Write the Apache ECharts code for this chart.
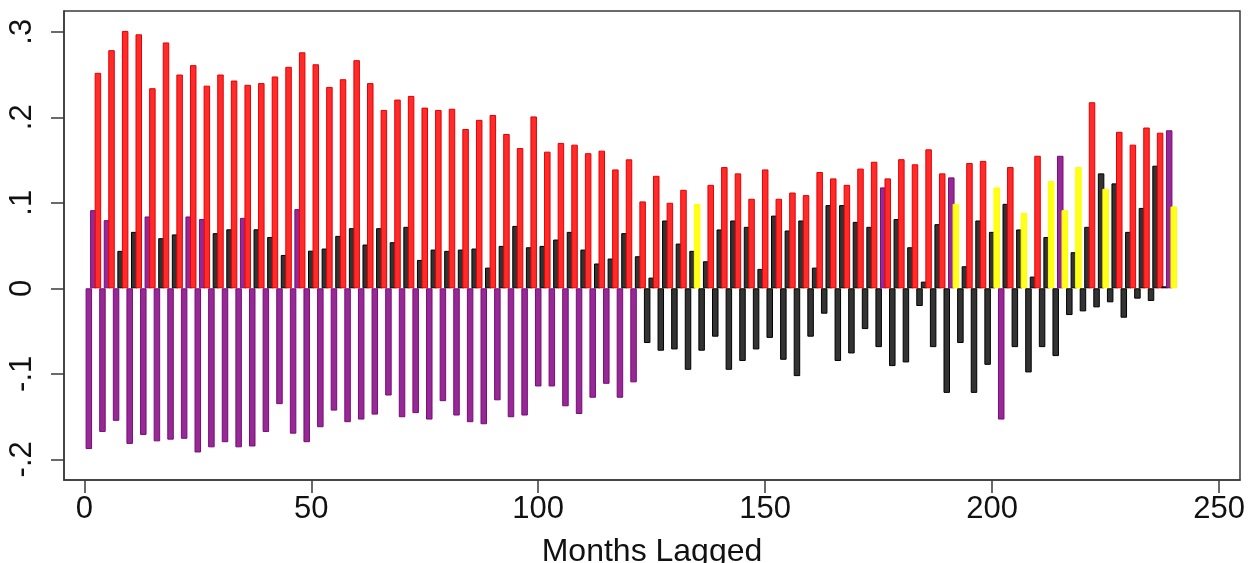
<!DOCTYPE html>
<html><head><meta charset="utf-8">
<script src="https://cdn.jsdelivr.net/npm/echarts@6/dist/echarts.min.js"></script>
<style>html,body{margin:0;padding:0;background:#fff}#c{width:1257px;height:563px}</style>
</head><body><div id="c"></div>
<script>
// Slot A: lags 1,4,7,...,238
const slotA = [-0.188,-0.168,-0.155,-0.182,-0.1715,-0.179,-0.177,-0.176,-0.192,-0.186,
 -0.180,-0.186,-0.185,-0.168,-0.1355,-0.170,-0.180,-0.1625,-0.143,-0.1566,
 -0.1535,-0.1477,-0.1254,-0.1508,-0.146,-0.1535,-0.132,-0.1488,-0.1566,-0.159,
 -0.131,-0.1508,-0.1488,-0.1148,-0.1148,-0.138,-0.147,-0.128,-0.1117,-0.128,
 -0.110,-0.064,-0.073,-0.0715,-0.0953,-0.073,-0.0566,-0.0953,-0.085,-0.0715,
 -0.058,-0.0836,-0.1027,-0.0566,-0.0297,-0.085,-0.0762,-0.0477,-0.0688,-0.091,
 -0.0867,-0.0207,-0.0688,-0.1223,-0.064,-0.1223,-0.0895,-0.1535,-0.0688,-0.0984,
 -0.0688,-0.0793,-0.0313,-0.027,-0.0223,-0.0164,-0.0344,-0.0121,-0.0148,0.0023];
const colA = 'PPPPPPPPPPPPPPPPPPPPPPPPPPPPPPPPPPPPPPPPPKKKKKKKKKKKKKKKKKKKKKKKKKKPKKKKKKKKKKKK';
// Slot B: lags 2,5,8,...,239
const slotB = [0.0914,0.0797,0.0438,0.066,0.084,0.0586,0.063,0.084,0.081,0.0645,
 0.069,0.0824,0.069,0.060,0.039,0.0926,0.044,0.0465,0.0613,0.0703,
 0.0512,0.0703,0.0539,0.0719,0.0332,0.0453,0.0438,0.0453,0.0465,0.0242,
 0.0496,0.073,0.048,0.0496,0.057,0.066,0.0453,0.029,0.0348,0.0645,
 0.0375,0.0125,0.0793,0.0523,0.0438,0.0316,0.0688,0.0793,0.0719,0.0227,
 0.085,0.0676,0.0793,0.0242,0.0973,0.0973,0.0777,0.0719,0.118,0.081,
 0.048,0.0078,0.075,0.1297,0.0258,0.0793,0.066,0.0988,0.0688,0.0137,
 0.060,0.155,0.0422,0.0719,0.1344,0.1227,0.066,0.094,0.1434,0.1848];
const colB = 'PPKKPKKPPKKPKKKPKKKKKKKKKKKKKKKKKKKKKKKKKKKKKKKKKKKKKKKKKKPKKKKPKKKKKKKPKKKKKKKP';
// Slot C: lags 3,6,9,...,240
const slotC = [0.252,0.2785,0.301,0.297,0.234,0.2875,0.250,0.261,0.237,0.250,
 0.243,0.238,0.240,0.2477,0.259,0.276,0.262,0.2355,0.2445,0.2668,
 0.240,0.2086,0.2207,0.225,0.2113,0.2086,0.210,0.1863,0.197,0.2027,
 0.1805,0.164,0.201,0.1598,0.170,0.168,0.158,0.161,0.139,0.1508,
 0.1016,0.1316,0.100,0.1152,0.0988,0.121,0.1418,0.1344,0.1047,0.139,
 0.1047,0.112,0.109,0.136,0.1285,0.121,0.140,0.148,0.1285,0.151,
 0.145,0.1625,0.1344,0.0988,0.1465,0.149,0.118,0.1418,0.0883,0.155,
 0.1254,0.0914,0.1418,0.2176,0.1164,0.183,0.168,0.188,0.182,0.0957];
const colC = 'RRRRRRRRRRRRRRRRRRRRRRRRRRRRRRRRRRRRRRRRRRRRYRRRRRRRRRRRRRRRRRRYRRYRYRYYYRYRRRRY';
const xTickValues = [0,50,100,150,200,250];
const xTickLabels = ['0','50','100','150','200','250'];
const yTickValues = [-0.2,-0.1,0,0.1,0.2,0.3];
const yTickLabels = ['-.2','-.1','0','.1','.2','.3'];

const styles = {
  P:{color:'#952a95',borderColor:'#7a0a7a'},
  K:{color:'#333333',borderColor:'#000000'},
  R:{color:'#ff2b2b',borderColor:'#e30000'},
  Y:{color:'#ffff1a',borderColor:'#ffff00'}
};
const data = [];
for (let i=0;i<80;i++){
  data.push({value:[3*i+1, slotA[i]], itemStyle:styles[colA[i]]});
  data.push({value:[3*i+2, slotB[i]], itemStyle:styles[colB[i]]});
  data.push({value:[3*i+3, slotC[i]], itemStyle:styles[colC[i]]});
}
const font = 'Liberation Sans, Arial, sans-serif';
const axisCol = '#3a3a3a';
const chart = echarts.init(document.getElementById('c'));
chart.setOption({
  animation:false,
  backgroundColor:'#fff',
  grid:{left:64,right:17,top:11,bottom:83,show:true,borderColor:axisCol,borderWidth:1.5,
    containLabel:false,outerBoundsMode:'none'},
  xAxis:{type:'value',min:-4.47,max:254.6,
    axisLine:{show:true,onZero:false,lineStyle:{color:axisCol,width:1.5}},
    axisTick:{show:true,length:13,customValues:xTickValues,lineStyle:{color:axisCol,width:1.5}},
    axisLabel:{customValues:xTickValues,fontSize:31,fontFamily:font,color:'#111',margin:14,
      formatter:v=>{const k=xTickValues.findIndex(t=>Math.abs(t-v)<1e-9);return k>=0?xTickLabels[k]:'';}},
    splitLine:{show:false},
    name:'Months Lagged',nameLocation:'middle',nameGap:56,
    nameTextStyle:{fontSize:32,fontFamily:font,color:'#111'}
  },
  yAxis:{type:'value',min:-0.2242,max:0.3243,
    axisLine:{show:true,onZero:false,lineStyle:{color:axisCol,width:1.5}},
    axisTick:{show:true,length:13,customValues:yTickValues,lineStyle:{color:axisCol,width:1.5}},
    axisLabel:{customValues:yTickValues,rotate:90,fontSize:31,fontFamily:font,color:'#111',margin:26,
      formatter:v=>{const k=yTickValues.findIndex(t=>Math.abs(t-v)<1e-9);return k>=0?yTickLabels[k]:'';}},
    splitLine:{show:false}
  },
  series:[{type:'bar',data:data,barWidth:6.5,barMaxWidth:10,itemStyle:{borderWidth:1}}]
});
</script></body></html>
